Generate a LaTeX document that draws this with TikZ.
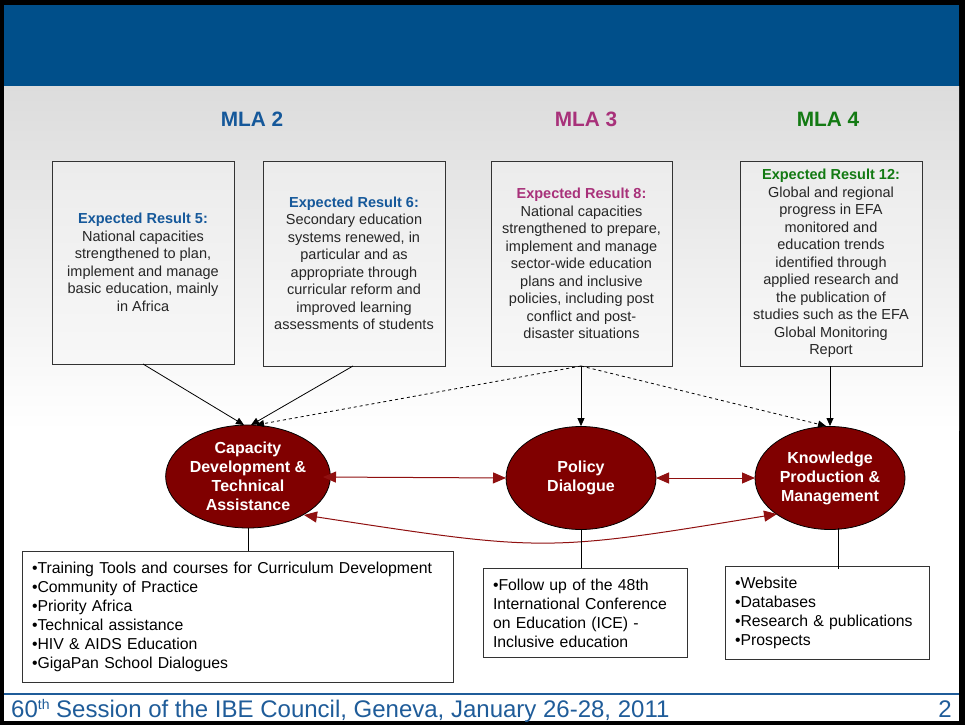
\documentclass[tikz,border=0pt]{standalone}
\usepackage{fontspec}
\setmainfont{Liberation Sans}
\usetikzlibrary{shapes.geometric,arrows.meta}
\definecolor{band}{HTML}{004F8A}
\definecolor{mlatwo}{HTML}{15589A}
\definecolor{mlathree}{HTML}{A8317A}
\definecolor{mlafour}{HTML}{137A13}
\definecolor{maroon}{HTML}{800000}
\definecolor{redarrow}{HTML}{901010}
\definecolor{footblue}{HTML}{1F5C99}
\definecolor{boxline}{HTML}{333333}
\definecolor{bgtop}{HTML}{DCDCDC}
\tikzset{
  erbox/.style={draw=boxline, line width=1pt, top color=gray!15, bottom color=gray!6, align=center, inner sep=0pt,
    font=\fontsize{14.5}{17.5}\selectfont, text=black!85},
  listbox/.style={draw=boxline, line width=1pt, fill=white, align=left, inner sep=10pt,
    font=\fontsize{15.8}{19.1}\selectfont, text=black},
  oval/.style={ellipse, draw=black, line width=0.8pt, fill=maroon, text=white, align=center, inner sep=0pt,
    minimum width=150pt, minimum height=103pt, font=\bfseries\fontsize{16}{19}\selectfont},
  mla/.style={font=\bfseries\fontsize{20.8}{24}\selectfont},
  blackarrow/.style={draw=black, line width=0.8pt, -{Triangle[length=8pt,width=7pt]}},
  dasharrow/.style={blackarrow, dashed},
  redlink/.style={draw=redarrow, line width=1pt, {Triangle[length=13pt,width=11pt]}-{Triangle[length=13pt,width=11pt]}},
  plainline/.style={draw=black, line width=0.8pt}
}
\begin{document}
\begin{tikzpicture}[x=1pt,y=-1pt]
\useasboundingbox (0,0) rectangle (965,725);
% frame and background
\fill[black] (0,0) rectangle (965,725);
\fill[white] (4,5) rectangle (959,721);
\shade[top color=bgtop, bottom color=white] (4,86) rectangle (959,430);
\fill[band] (4,5) rectangle (959,86);
% MLA titles
\node[mla, text=mlatwo] (mla2) at (252,119) {MLA 2};
\node[mla, text=mlathree] (mla3) at (586,119) {MLA 3};
\node[mla, text=mlafour] (mla4) at (828,119) {MLA 4};
% expected result boxes
\node[erbox, minimum width=182pt, minimum height=203pt] (er5) at (143,262.5)
 {\textcolor{mlatwo}{\bfseries Expected Result 5:}\\National capacities\\strengthened to plan,\\implement and manage\\basic education, mainly\\in Africa};
\node[erbox, minimum width=182pt, minimum height=205pt] (er6) at (354,263.5)
 {\textcolor{mlatwo}{\bfseries Expected Result 6:}\\Secondary education\\systems renewed, in\\particular and as\\appropriate through\\curricular reform and\\improved learning\\assessments of students};
\node[erbox, minimum width=181pt, minimum height=205pt] (er8) at (581.5,263.5)
 {\textcolor{mlathree}{\bfseries Expected Result 8:}\\National capacities\\strengthened to prepare,\\implement and manage\\sector-wide education\\plans and inclusive\\policies, including post\\conflict and post-\\disaster situations};
\node[erbox, minimum width=182pt, minimum height=205pt] (er12) at (831,263.5)
 {\textcolor{mlafour}{\bfseries Expected Result 12:}\\Global and regional\\progress in EFA\\monitored and\\education trends\\identified through\\applied research and\\the publication of\\studies such as the EFA\\Global Monitoring\\Report};
% ellipses
\node[oval] (cd) at (248,476.5) {Capacity\\Development \&\\Technical\\Assistance};
\node[oval] (pd) at (581,478) {Policy\\Dialogue};
\node[oval] (kp) at (830,478) {Knowledge\\Production \&\\Management};
% bottom boxes
\node[listbox, minimum width=431pt, minimum height=126pt, text width=411pt] (l1) at (237.5,617)
 {•Training Tools and courses for Curriculum Development\\•Community of Practice\\•Priority Africa\\•Technical assistance\\•HIV \& AIDS Education\\•GigaPan School Dialogues};
\node[listbox, minimum width=204pt, minimum height=88pt, text width=184pt] (l2) at (585,613)
 {•Follow up of the 48th\\International Conference\\on Education (ICE) -\\Inclusive education};
\node[listbox, minimum width=204pt, minimum height=88pt, text width=184pt] (l3) at (827,613)
 {•Website\\•Databases\\•Research \& publications\\•Prospects};
% connector points
\coordinate (er5b) at (143,364);
\coordinate (er6b) at (353,366);
\coordinate (er8b) at (581,366);
\coordinate (er12b) at (830,366);
\coordinate (cdt1) at (244,425);
\coordinate (cdt2) at (251,425);
\coordinate (cdt3) at (256,425);
\coordinate (kpt1) at (826,426);
\coordinate (kpt2) at (830,426);
\coordinate (cdr) at (323,477);
\coordinate (pdl) at (506,478);
\coordinate (pdr) at (656,478);
\coordinate (kpl) at (755,478);
\coordinate (cdc) at (304,515);
\coordinate (kpc) at (777,514);
\coordinate (kpb) at (838,528);
\coordinate (l3t) at (838,569);
% black connectors
\draw[blackarrow] (er5b) -- (cdt1);
\draw[blackarrow] (er6b) -- (cdt2);
\draw[dasharrow] (er8b) -- (cdt3);
\draw[dasharrow] (er8b) -- (kpt1);
\draw[blackarrow] (er8b) -- (pd.north);
\draw[blackarrow] (er12b) -- (kpt2);
% red links
\draw[redlink] (cdr) -- (pdl);
\draw[redlink] (pdr) -- (kpl);
\draw[redlink] (cdc) .. controls (545,552) .. (kpc);
% lines to lists
\draw[plainline] (cd.south) -- (l1.north -| cd.south);
\draw[plainline] (pd.south) -- (l2.north -| pd.south);
\draw[plainline] (kpb) -- (l3t);
% footer
\draw[footblue, line width=2pt] (4,694) -- (959,694);
\node[anchor=base west, inner sep=0pt, text=footblue, font=\fontsize{24}{28}\selectfont] (foot) at (11,717)
 {60\raisebox{7.5pt}{\fontsize{14}{14}\selectfont th} Session of the IBE Council, Geneva, January 26-28, 2011};
\node[anchor=base east, inner sep=0pt, text=footblue, font=\fontsize{24}{28}\selectfont] (pnum) at (952,717) {2};
\end{tikzpicture}
\end{document}
